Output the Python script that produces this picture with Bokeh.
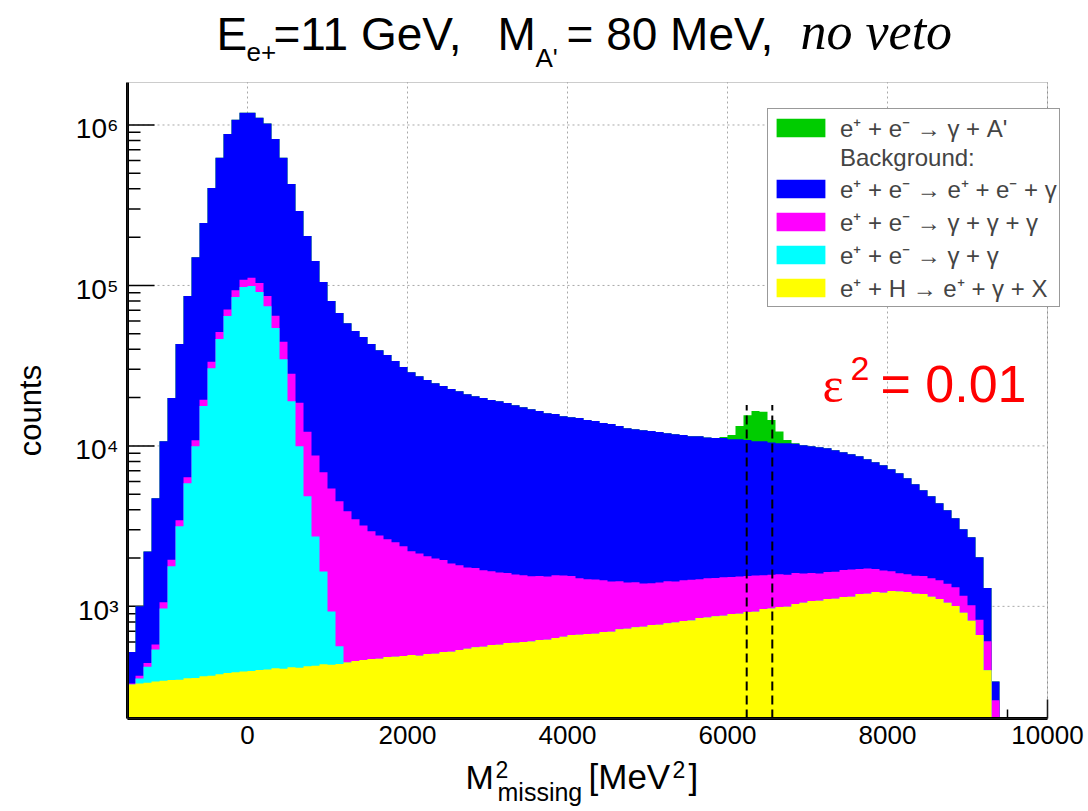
import numpy as np
from bokeh.plotting import figure
from bokeh.models import Range1d, Label, Legend, LegendItem, BoxAnnotation
from bokeh.core.properties import value
from bokeh.embed import file_html
from bokeh.resources import INLINE

# ---------------------------------------------------------------------------
# Missing-mass-squared spectrum, 100 MeV^2 bins from -1500 to 10000 MeV^2
# ---------------------------------------------------------------------------
bin_edges = np.arange(-1500, 10000 + 100, 100)

# e+ + H -> e+ + gamma + X
counts_eH = [
    326, 331, 334, 340, 344, 347, 349, 356, 358, 367,
    370, 378, 384, 389, 392, 395, 401, 404, 411, 408,
    417, 414, 424, 427, 436, 433, 437, 446, 456, 463,
    470, 472, 484, 486, 491, 497, 493, 505, 507, 519,
    521, 535, 544, 557, 561, 574, 576, 590, 593, 599,
    604, 617, 619, 635, 647, 662, 666, 673, 676, 692,
    695, 721, 726, 742, 747, 765, 769, 786, 792, 809,
    815, 846, 851, 869, 875, 895, 900, 921, 927, 962,
    968, 990, 996, 1034, 1052, 1080, 1084, 1112, 1116, 1145,
    1148, 1195, 1199, 1230, 1216, 1247, 1236, 1229, 1198, 1194,
    1148, 1112, 1052, 1006, 911, 812, 664, 400, 0, 0,
    0, 0, 0, 0, 0,
]

# e+ + e- -> gamma + gamma
counts_gg = [
    0, 24, 87, 198, 626, 1433, 2805, 5495, 9600, 17330,
    30130, 45920, 64010, 84310, 97310, 98710, 90600, 73900, 53790, 34290,
    18580, 9540, 4430, 2300, 1215, 496, 128, 0, 0, 0,
    0, 0, 0, 0, 0, 0, 0, 0, 0, 0,
    0, 0, 0, 0, 0, 0, 0, 0, 0, 0,
    0, 0, 0, 0, 0, 0, 0, 0, 0, 0,
    0, 0, 0, 0, 0, 0, 0, 0, 0, 0,
    0, 0, 0, 0, 0, 0, 0, 0, 0, 0,
    0, 0, 0, 0, 0, 0, 0, 0, 0, 0,
    0, 0, 0, 0, 0, 0, 0, 0, 0, 0,
    0, 0, 0, 0, 0, 0, 0, 0, 0, 0,
    0, 0, 0, 0, 0,
]

# e+ + e- -> gamma + gamma + gamma
counts_ggg = [
    5, 15, 22, 40, 90, 170, 290, 520, 900, 1700,
    3000, 5000, 6500, 8500, 11000, 12500, 12500, 11500, 10500, 9800,
    9200, 8600, 7400, 6000, 5200, 4500, 3950, 3473, 3036, 2733,
    2473, 2296, 2139, 2022, 1882, 1705, 1645, 1548, 1481, 1423,
    1326, 1269, 1203, 1175, 1117, 1079, 1051, 1023, 984, 964,
    935, 926, 918, 929, 910, 881, 831, 801, 792, 762,
    732, 712, 681, 671, 640, 629, 638, 647, 635, 644,
    652, 628, 646, 634, 641, 629, 636, 623, 629, 602,
    608, 594, 580, 581, 551, 536, 520, 524, 528, 542,
    546, 512, 525, 477, 457, 410, 370, 357, 355, 352,
    346, 344, 331, 310, 253, 204, 161, 205, 260, 0,
    0, 0, 0, 0, 0,
]

# e+ + e- -> e+ + e- + gamma
counts_eeg = [
    189, 630, 1757, 4142, 9640, 17950, 39656, 79529, 139142, 225603,
    371500, 572702, 808106, 986801, 1081298, 1078400, 1006500, 934200, 754300, 579500,
    400800, 272450, 190750, 133270, 98150, 74570, 62785, 54281, 48508, 44504,
    40157, 36732, 34177, 31292, 28627, 26598, 25062, 23647, 22612, 21658,
    20753, 20096, 19253, 18668, 18222, 17647, 17373, 16887, 16323, 15837,
    15361, 14957, 14463, 14236, 13743, 13557, 13403, 13026, 12832, 12446,
    12273, 11867, 11493, 11287, 11113, 11006, 10793, 10567, 10373, 10247,
    10033, 10026, 9803, 9697, 9684, 9476, 9464, 9356, 9144, 9136,
    8924, 8816, 8824, 8685, 8497, 8344, 8216, 8044, 7756, 7453,
    7176, 6913, 6536, 6203, 5907, 5503, 5154, 4694, 4217, 3744,
    3356, 2934, 2587, 2224, 1856, 1684, 1195, 695, 80, 0,
    0, 0, 0, 0, 0,
]

# e+ + e- -> gamma + A'  (M_A' = 80 MeV, eps^2 = 0.01)
counts_signal = [
    0, 0, 0, 0, 0, 0, 0, 0, 0, 0,
    0, 0, 0, 0, 0, 0, 0, 0, 0, 0,
    0, 0, 0, 0, 0, 0, 0, 0, 0, 0,
    0, 0, 0, 0, 0, 0, 0, 0, 0, 0,
    0, 0, 0, 0, 0, 0, 0, 0, 0, 0,
    0, 0, 0, 0, 0, 0, 0, 0, 0, 0,
    0, 0, 0, 0, 0, 0, 0, 0, 0, 0,
    0, 0, 0, 0, 150, 700, 2300, 4600, 5800, 5600,
    4000, 1900, 500, 100, 0, 0, 0, 0, 0, 0,
    0, 0, 0, 0, 0, 0, 0, 0, 0, 0,
    0, 0, 0, 0, 0, 0, 0, 0, 0, 0,
    0, 0, 0, 0, 0,
]

# Signal mass window [MeV^2] and height of its marker lines
signal_window = [6240, 6560]
window_line_top = 1.8e4

# Axis ticks and their labels
x_major = [0, 2000, 4000, 6000, 8000, 10000]
x_tick_labels = ["0", "2000", "4000", "6000", "8000", "10000"]
y_major = [1e3, 1e4, 1e5, 1e6]
y_tick_labels = ["10\u00b3", "10\u2074", "10\u2075", "10\u2076"]

legend_labels = [
    "e\u207a + e\u207b \u2192 \u03b3 + A'",
    "Background:",
    "e\u207a + e\u207b \u2192 e\u207a + e\u207b + \u03b3",
    "e\u207a + e\u207b \u2192 \u03b3 + \u03b3 + \u03b3",
    "e\u207a + e\u207b \u2192 \u03b3 + \u03b3",
    "e\u207a + H \u2192 e\u207a + \u03b3 + X",
]

# ---------------------------------------------------------------------------
# Page geometry: the Bokeh frame spans the whole canvas and the histogram
# pad occupies the box AX_L..AX_R x AX_T..AX_B (canvas pixels).
W, H = 1088, 811
AX_L, AX_R, AX_T, AX_B = 127, 1047, 82, 718
X_LO, X_HI = -1500, 10000
Y_LO, Y_HI = 200, 1.84e6
FONT = "Liberation Sans"

ux = (X_HI - X_LO) / (AX_R - AX_L)                       # data units per px
dpx = (np.log10(Y_HI) - np.log10(Y_LO)) / (AX_B - AX_T)  # decades per px


def px_x(cx):
    return X_LO + (cx - AX_L) * ux


def px_y(cy):
    return 10 ** (np.log10(Y_LO) + (AX_B - cy) * dpx)


c_signal, c_eeg, c_ggg, c_gg, c_eH = "#00cc00", "#0000ff", "#ff00ff", "#00ffff", "#ffff00"

p = figure(width=W, height=H, x_range=Range1d(px_x(0), px_x(W)),
           y_range=Range1d(px_y(H), px_y(0)), y_axis_type="log",
           x_axis_location=None, y_axis_location=None,
           output_backend="svg", toolbar_location=None, min_border=0)
p.outline_line_color = None
p.background_fill_color = "white"
p.border_fill_color = "white"
p.grid.visible = False

# dotted grid at the major ticks (behind the histogram)
grid_style = dict(line_color="#a8a8a8", line_width=1, line_dash="2 3")
p.segment(x0=x_major, x1=x_major, y0=[Y_LO] * len(x_major),
          y1=[Y_HI] * len(x_major), **grid_style)
p.segment(x0=[X_LO] * 4, x1=[X_HI] * 4, y0=y_major, y1=y_major, **grid_style)

# tick marks pointing into the pad
x_minor = [v for v in range(-1500, 10001, 500) if v not in x_major]
y_minor = [m * 10 ** e for e in range(2, 7) for m in range(2, 10)
           if Y_LO <= m * 10 ** e <= Y_HI]
tick_style = dict(line_color="black", line_width=1.5)
p.segment(x0=x_major, x1=x_major, y0=[Y_LO] * len(x_major),
          y1=[Y_LO * 10 ** (19 * dpx)] * len(x_major), **tick_style)
p.segment(x0=x_minor, x1=x_minor, y0=[Y_LO] * len(x_minor),
          y1=[Y_LO * 10 ** (9 * dpx)] * len(x_minor), **tick_style)
p.segment(x0=[X_LO] * len(y_major), x1=[X_LO + 27 * ux] * len(y_major),
          y0=y_major, y1=y_major, **tick_style)
p.segment(x0=[X_LO] * len(y_minor), x1=[X_LO + 13 * ux] * len(y_minor),
          y0=y_minor, y1=y_minor, **tick_style)

# stacked histogram: draw cumulative totals from the top layer down
layers = np.array([counts_eH, counts_gg, counts_ggg, counts_eeg, counts_signal], float)
tops = np.cumsum(layers, axis=0)
colors = [c_eH, c_gg, c_ggg, c_eeg, c_signal]
stack_renderers = {}
for top, col in reversed(list(zip(tops, colors))):
    y2 = np.maximum(np.append(top, top[-1]), Y_LO)
    stack_renderers[col] = p.varea_step(x=bin_edges, y1=np.full(len(y2), Y_LO),
                                        y2=y2, step_mode="after", fill_color=col)

# signal window markers
p.segment(x0=signal_window, y0=[Y_LO] * 2, x1=signal_window,
          y1=[window_line_top] * 2, line_color="black", line_width=2,
          line_dash="9 5")

# pad frame: thin box, heavy x and y axis lines
p.add_layout(BoxAnnotation(left=X_LO, right=X_HI, bottom=Y_LO, top=Y_HI,
                           fill_alpha=0, line_color="#555555", line_width=1))
p.segment(x0=[X_LO, X_LO], x1=[X_HI, X_LO], y0=[Y_LO, Y_LO], y1=[Y_LO, Y_HI],
          line_color="black", line_width=3)

# tick labels
p.text(x=x_major, y=[Y_LO] * len(x_major), text=x_tick_labels,
       text_font=value(FONT), text_font_size="26px", text_color="black",
       text_align="center", text_baseline="top", y_offset=7)
p.text(x=[X_LO] * len(y_major), y=y_major, text=y_tick_labels,
       text_font=value(FONT), text_font_size="28px", text_color="black",
       text_align="right", text_baseline="middle", x_offset=-9, y_offset=4)

# legend (swatches come from the stacked areas themselves)
blank = p.quad(left=[], right=[], top=[], bottom=[], fill_alpha=0, line_alpha=0)
renderers = [stack_renderers[c_signal], blank, stack_renderers[c_eeg],
             stack_renderers[c_ggg], stack_renderers[c_gg], stack_renderers[c_eH]]
legend = Legend(items=[LegendItem(label=t, renderers=[r])
                       for t, r in zip(legend_labels, renderers)],
                location=(767, H - 307), orientation="vertical",
                glyph_width=61, glyph_height=23, label_height=23,
                spacing=0, padding=2, margin=0, label_standoff=9,
                label_text_font=FONT, label_text_font_size="24px",
                border_line_color="#333333", border_line_width=1.5,
                background_fill_color="white", background_fill_alpha=1)
p.add_layout(legend, "center")


def put(text, cx, cy, size, font=FONT, style="normal", color="black",
        align="left", baseline="alphabetic", angle=0):
    """Place a text with its baseline at canvas pixel (cx, cy)."""
    if baseline == "alphabetic":
        cy = cy - 0.36 * size
    p.add_layout(Label(x=cx, y=H - cy, x_units="screen", y_units="screen",
                       text=text, text_font=font, text_font_size=f"{size}px",
                       text_font_style=style, text_color=color,
                       text_align=align, text_baseline=baseline, angle=angle))


# title: E_{e+}=11 GeV,  M_{A'} = 80 MeV,  no veto
put("E", 216, 50, 46)
put("e+", 246, 61, 26)
put("=11 GeV,", 273, 50, 46)
put("M", 497, 50, 46)
put("A'", 535, 67, 26)
put("= 80 MeV,", 566, 50, 46)
put("no veto", 800, 50, 52, font="Liberation Serif", style="italic")

# coupling annotation
put("\u03b5", 822, 402, 50, font="Liberation Serif", color="#ff0000")
put("2", 850, 380, 34, color="#ff0000")
put("= 0.01", 880, 402, 52, color="#ff0000")

# axis titles
put("M", 465, 789, 34)
put("2", 495, 777, 23)
put("missing", 497, 800, 25)
put("[MeV", 588, 789, 35)
put("2", 672, 777, 23)
put("]", 688, 789, 35)
put("counts", 30, 410, 31, align="center", baseline="middle", angle=np.pi / 2)

open("out.html", "w").write(file_html(p, INLINE))
